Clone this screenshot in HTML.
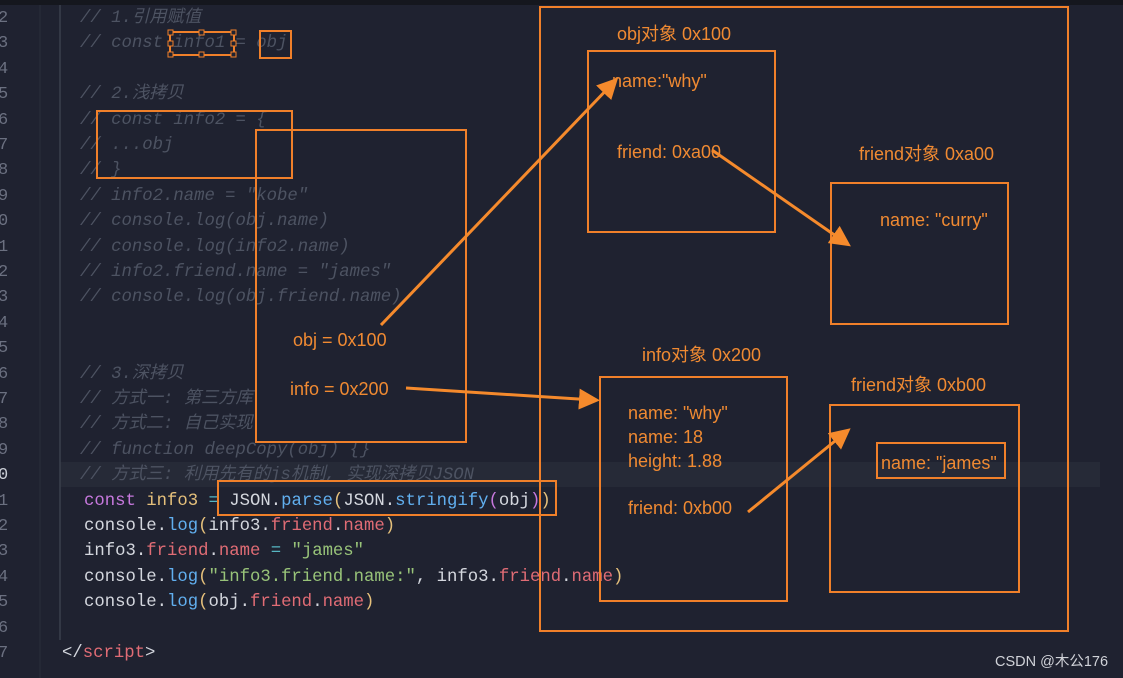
<!DOCTYPE html>
<html><head><meta charset="utf-8"><style>
html,body{margin:0;padding:0;background:#1f2230;}
svg{display:block}
.c{font-family:"Liberation Mono","Noto Sans CJK SC",monospace;font-size:17.3px;}
.cm{fill:#4d5362;font-style:italic;}
.o{font-family:"Liberation Sans","Noto Sans CJK SC",sans-serif;font-size:18px;fill:#f08a32;}
.ln{font-family:"Liberation Mono",monospace;font-size:17px;fill:#6b7080;}
</style></head><body>
<svg width="1123" height="678" viewBox="0 0 1123 678" xmlns="http://www.w3.org/2000/svg">
<rect width="1123" height="678" fill="#1f2230"/>
<rect width="1123" height="5" fill="#15171e"/>
<rect x="60" y="462" width="1040" height="25" fill="#262a37"/>
<line x1="60" y1="5" x2="60" y2="640" stroke="#3a3f4c" stroke-width="1.5"/>
<line x1="40" y1="5" x2="40" y2="678" stroke="#2a2e3a" stroke-width="1"/>
<g class="ln">
<text x="-2" y="22">2</text><text x="-2" y="47">3</text><text x="-2" y="73">4</text><text x="-2" y="98">5</text><text x="-2" y="124">6</text><text x="-2" y="149">7</text><text x="-2" y="174">8</text><text x="-2" y="200">9</text><text x="-2" y="225">0</text><text x="-2" y="251">1</text><text x="-2" y="276">2</text><text x="-2" y="301">3</text><text x="-2" y="327">4</text><text x="-2" y="352">5</text><text x="-2" y="378">6</text><text x="-2" y="403">7</text><text x="-2" y="428">8</text><text x="-2" y="454">9</text><text x="-2" y="479" fill="#c8ccd4">0</text><text x="-2" y="505">1</text><text x="-2" y="530">2</text><text x="-2" y="555">3</text><text x="-2" y="581">4</text><text x="-2" y="606">5</text><text x="-2" y="632">6</text><text x="-2" y="657">7</text>
</g>
<g class="c cm">
<text x="80" y="22">// 1.引用赋值</text>
<text x="80" y="47">// const info1 = obj</text>
<text x="80" y="98">// 2.浅拷贝</text>
<text x="80" y="124">// const info2 = {</text>
<text x="80" y="149">//   ...obj</text>
<text x="80" y="174">// }</text>
<text x="80" y="200">// info2.name = "kobe"</text>
<text x="80" y="225">// console.log(obj.name)</text>
<text x="80" y="251">// console.log(info2.name)</text>
<text x="80" y="276">// info2.friend.name = "james"</text>
<text x="80" y="301">// console.log(obj.friend.name)</text>
<text x="80" y="378">// 3.深拷贝</text>
<text x="80" y="403">// 方式一: 第三方库</text>
<text x="80" y="428">// 方式二: 自己实现</text>
<text x="80" y="454">// function deepCopy(obj) {}</text>
<text x="80" y="479">// 方式三: 利用先有的js机制, 实现深拷贝JSON</text>
</g>
<g class="c" fill="#d4d7de">
<text x="84" y="505"><tspan fill="#c678dd">const</tspan> <tspan fill="#e5c07b">info3</tspan> <tspan fill="#56b6c2">=</tspan> JSON.<tspan fill="#61afef">parse</tspan><tspan fill="#e5c07b">(</tspan>JSON.<tspan fill="#61afef">stringify</tspan><tspan fill="#c678dd">(</tspan>obj<tspan fill="#c678dd">)</tspan><tspan fill="#e5c07b">)</tspan></text>
<text x="84" y="530">console.<tspan fill="#61afef">log</tspan><tspan fill="#e5c07b">(</tspan>info3.<tspan fill="#e06c75">friend</tspan>.<tspan fill="#e06c75">name</tspan><tspan fill="#e5c07b">)</tspan></text>
<text x="84" y="555">info3.<tspan fill="#e06c75">friend</tspan>.<tspan fill="#e06c75">name</tspan> <tspan fill="#56b6c2">=</tspan> <tspan fill="#98c379">"james"</tspan></text>
<text x="84" y="581">console.<tspan fill="#61afef">log</tspan><tspan fill="#e5c07b">(</tspan><tspan fill="#98c379">"info3.friend.name:"</tspan>, info3.<tspan fill="#e06c75">friend</tspan>.<tspan fill="#e06c75">name</tspan><tspan fill="#e5c07b">)</tspan></text>
<text x="84" y="606">console.<tspan fill="#61afef">log</tspan><tspan fill="#e5c07b">(</tspan>obj.<tspan fill="#e06c75">friend</tspan>.<tspan fill="#e06c75">name</tspan><tspan fill="#e5c07b">)</tspan></text>
<text x="62" y="657">&lt;/<tspan fill="#e06c75">script</tspan>&gt;</text>
</g>
<g fill="none" stroke="#f0802a" stroke-width="2">
<rect x="170" y="32" width="64" height="23"/>
<rect x="260" y="31" width="31" height="27"/>
<rect x="97" y="111" width="195" height="67"/>
<rect x="256" y="130" width="210" height="312"/>
<rect x="540" y="7" width="528" height="624"/>
<rect x="588" y="51" width="187" height="181"/>
<rect x="831" y="183" width="177" height="141"/>
<rect x="600" y="377" width="187" height="224"/>
<rect x="830" y="405" width="189" height="187"/>
<rect x="877" y="443" width="128" height="35"/>
<rect x="218" y="481" width="338" height="34"/>
</g>
<g fill="#1f2230" stroke="#f0802a" stroke-width="1">
<rect x="168" y="30" width="5" height="5"/><rect x="199" y="30" width="5" height="5"/><rect x="231" y="30" width="5" height="5"/>
<rect x="168" y="41" width="5" height="5"/><rect x="231" y="41" width="5" height="5"/>
<rect x="168" y="52" width="5" height="5"/><rect x="199" y="52" width="5" height="5"/><rect x="231" y="52" width="5" height="5"/>
</g>
<defs><marker id="a" markerWidth="7" markerHeight="7" refX="5" refY="3.5" orient="auto" markerUnits="strokeWidth"><path d="M0,0 L7,3.5 L0,7 z" fill="#f58a2c"/></marker></defs>
<g stroke="#f58a2c" stroke-width="3" fill="none" marker-end="url(#a)">
<line x1="381" y1="325" x2="614" y2="82"/>
<line x1="406" y1="388" x2="594" y2="400"/>
<line x1="712" y1="150" x2="846" y2="243"/>
<line x1="748" y1="512" x2="846" y2="432"/>
</g>
<g class="o">
<text x="617" y="40">obj对象 0x100</text>
<text x="612" y="87">name:"why"</text>
<text x="617" y="158">friend: 0xa00</text>
<text x="859" y="160">friend对象 0xa00</text>
<text x="880" y="226">name: "curry"</text>
<text x="293" y="346">obj = 0x100</text>
<text x="290" y="395">info = 0x200</text>
<text x="642" y="361">info对象 0x200</text>
<text x="851" y="391">friend对象 0xb00</text>
<text x="628" y="419">name: "why"</text>
<text x="628" y="443">name: 18</text>
<text x="628" y="467">height: 1.88</text>
<text x="628" y="514">friend: 0xb00</text>
<text x="881" y="469">name: "james"</text>
</g>
<text x="995" y="666" font-family="Liberation Sans,Noto Sans CJK SC,sans-serif" font-size="14.5" fill="#d0d2d8">CSDN @木公176</text>
</svg>
</body></html>
